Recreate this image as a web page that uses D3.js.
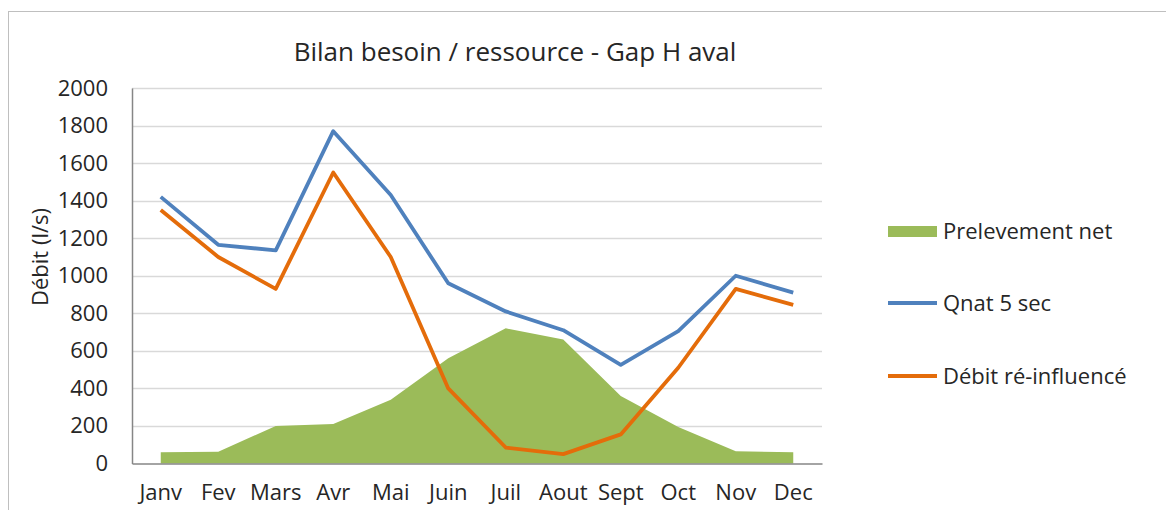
<!DOCTYPE html>
<html><head><meta charset="utf-8">
<script src="https://cdn.jsdelivr.net/npm/d3@7"></script>
<style>body{margin:0;background:#fff}svg{display:block}text{font-family:"Open Sans",sans-serif;fill:#262626}</style>
</head><body>
<script>
const months = ["Janv","Fev","Mars","Avr","Mai","Juin","Juil","Aout","Sept","Oct","Nov","Dec"];
const prelevement = [60,62,200,210,340,560,720,660,360,195,65,60];
const qnat = [1420,1165,1135,1770,1430,960,810,710,525,705,1000,910];
const debitReinf = [1350,1100,930,1550,1100,400,85,50,155,510,930,845];
const yTicks = [0,200,400,600,800,1000,1200,1400,1600,1800,2000];
const seriesNames = ["Prelevement net","Qnat 5 sec","Débit ré-influencé"];
const colors = {green:"#9BBB59", blue:"#4F81BD", orange:"#E46C0A"};

const W=1166,H=510;
const svg=d3.select("body").append("svg").attr("width",W).attr("height",H);
svg.append("rect").attr("x",8.5).attr("y",11.5).attr("width",W).attr("height",H).attr("fill","#fff").attr("stroke","#BFBFBF");

const L=132,R=822,T=88,B=463.5;
const x=d3.scaleBand().domain(months).range([L,R]);
const y=d3.scaleLinear().domain([0,2000]).range([B,T]);
const cx=m=>x(m)+x.bandwidth()/2;

// grid
svg.append("g").selectAll("line").data(yTicks.filter(d=>d>0)).join("line")
 .attr("x1",L).attr("x2",R).attr("y1",d=>Math.round(y(d))+0.5).attr("y2",d=>Math.round(y(d))+0.5)
 .attr("stroke","#D9D9D9").attr("stroke-width",1.5);

// area
svg.append("path").datum(prelevement).attr("fill",colors.green)
 .attr("d",d3.area().x((d,i)=>cx(months[i])).y0(B).y1(d=>y(d)));

// axes
const ya=svg.append("g").attr("transform",`translate(${L},0)`).call(d3.axisLeft(y).tickValues(yTicks).tickFormat(d3.format("d")).tickSize(0).tickPadding(24));
ya.select(".domain").attr("stroke","#868686").attr("stroke-width",1.5);
ya.selectAll("text").style("font-size","22px").attr("fill","#262626");
const xa=svg.append("g").attr("transform",`translate(0,${B})`).call(d3.axisBottom(x).tickSize(0).tickPadding(21));
xa.select(".domain").attr("stroke","#868686").attr("stroke-width",1.5);
xa.selectAll("text").style("font-size","22px").attr("fill","#262626");

// lines
const line=d3.line().x((d,i)=>cx(months[i])).y(d=>y(d));
svg.append("path").datum(qnat).attr("fill","none").attr("stroke",colors.blue).attr("stroke-width",3.8).attr("stroke-linejoin","round").attr("d",line);
svg.append("path").datum(debitReinf).attr("fill","none").attr("stroke",colors.orange).attr("stroke-width",3.8).attr("stroke-linejoin","round").attr("d",line);

// title
svg.append("text").attr("x",515).attr("y",61).attr("text-anchor","middle").style("font-size","26px").text("Bilan besoin / ressource - Gap H aval");
// y title
svg.append("text").attr("transform","translate(48,257) rotate(-90)").attr("text-anchor","middle").style("font-size","22px").text("Débit (l/s)");

// legend
const lg=svg.append("g");
lg.append("rect").attr("x",888).attr("y",226).attr("width",49).attr("height",11).attr("fill",colors.green);
lg.append("line").attr("x1",888).attr("x2",937).attr("y1",303).attr("y2",303).attr("stroke",colors.blue).attr("stroke-width",3.8);
lg.append("line").attr("x1",888).attr("x2",937).attr("y1",376).attr("y2",376).attr("stroke",colors.orange).attr("stroke-width",3.8);
[[231,0],[303,1],[376,2]].forEach(([yy,i])=>{
 lg.append("text").attr("x",943).attr("y",yy).attr("dy","0.35em").style("font-size","22px").text(seriesNames[i]);
});
</script>
</body></html>
